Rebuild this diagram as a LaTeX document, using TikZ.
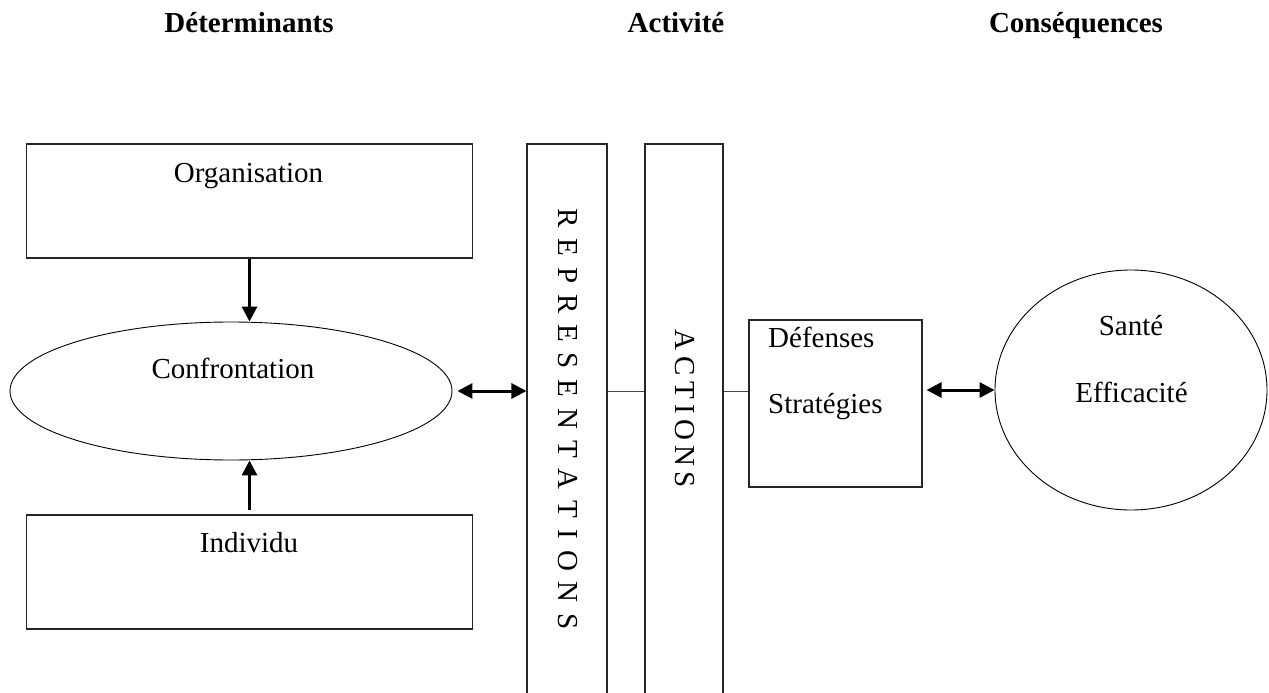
\documentclass[tikz,border=0pt]{standalone}
\usepackage{fontspec}
\setmainfont{Liberation Serif}
\usetikzlibrary{arrows.meta,shapes.geometric}
\newcommand\repgap{\hspace{10.9pt}}
\newcommand\actgap{\hspace{5.4pt}}
\begin{document}
\begin{tikzpicture}[x=1pt,y=-1pt,
  box/.style={draw=black!85, line width=1.1pt, rectangle, inner sep=0pt},
  oval/.style={draw=black, line width=0.9pt, ellipse, inner sep=0pt},
  txt/.style={font=\fontsize{29}{34}\selectfont, inner sep=0pt, anchor=base},
  head/.style={font=\fontsize{29}{34}\selectfont\bfseries, inner sep=0pt, anchor=base},
  link/.style={draw=black!70, line width=1pt},
  tip/.tip={Triangle[length=15pt,width=15pt]},
  flow/.style={line width=3pt, -tip},
  both/.style={line width=3pt, tip-tip},
]
\useasboundingbox (0,0) rectangle (1269,693);
\clip (0,0) rectangle (1269,693);

% column headings
\node[head] (hdet) at (249,33) {Déterminants};
\node[head] (hact) at (676,33) {Activité};
\node[head] (hcon) at (1076,33) {Conséquences};

% determinants
\node[box, minimum width=446pt, minimum height=114pt] (orgbox) at (249.5,201) {};
\node[txt] (orgtxt) at (248.5,182) {Organisation};
\node[oval, minimum width=442pt, minimum height=138pt] (conf) at (231,391) {};
\node[txt] (conftxt) at (233,378) {Confrontation};
\node[box, minimum width=446pt, minimum height=114pt] (indbox) at (249.5,572) {};
\node[txt] (indtxt) at (249,552) {Individu};

% activity columns (running past the lower edge)
\node[box, minimum width=80pt, minimum height=576pt] (repbox) at (567,432) {};
\node[txt, anchor=center, rotate=-90] (reptxt) at (568,419)
  {R\repgap E\repgap P\repgap R\repgap E\repgap S\repgap E\repgap N\repgap T\repgap A\repgap T\repgap I\repgap O\repgap N\repgap S};
\node[box, minimum width=78pt, minimum height=576pt] (actbox) at (684,432) {};
\node[txt, anchor=center, rotate=-90] (acttxt) at (685,409)
  {A\actgap C\actgap T\actgap I\actgap O\actgap N\actgap S};

% defences / strategies
\node[box, minimum width=173pt, minimum height=167pt] (def) at (835.5,403.5) {};
\node[txt, anchor=base west] (deftxt) at (768,347) {Défenses};
\node[txt, anchor=base west] (strtxt) at (768,413) {Stratégies};

% consequences
\node[oval, minimum width=272pt, minimum height=240pt] (sante) at (1131,390) {};
\node[txt] (santxt) at (1131,335) {Santé};
\node[txt] (efftxt) at (1131.5,402) {Efficacité};

% connectors
\draw[flow] (orgbox.south) -- (orgbox.south |- conf.north);
\draw[flow, shorten <=4pt] (indbox.north) -- (indbox.north |- conf.south);
\draw[both, shorten <=5pt] (conf.east) -- (conf.east -| repbox.west);
\draw[link] (repbox.east |- conf.east) -- (actbox.west |- conf.east);
\draw[link] (actbox.east |- conf.east) -- (def.west |- conf.east);
\draw[both, shorten <=4pt] (def.east |- sante.west) -- (sante.west);
\end{tikzpicture}
\end{document}
